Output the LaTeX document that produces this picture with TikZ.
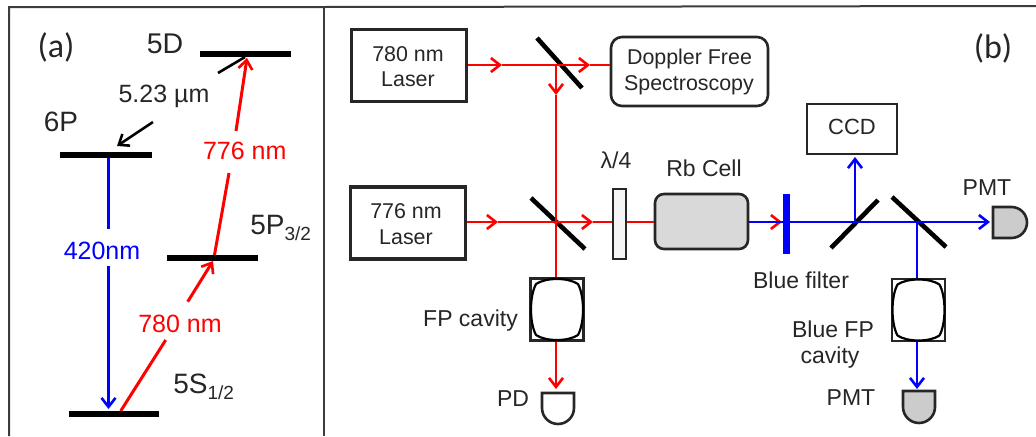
\documentclass[tikz,border=0pt]{standalone}
\usepackage{fontspec}
\setmainfont{Liberation Sans}
\newfontfamily\calib{Carlito}
\usetikzlibrary{arrows.meta}
\newcommand{\fsz}[1]{\fontsize{\dimexpr #1pt*3/4\relax}{\dimexpr #1pt*9/10\relax}\selectfont}
\definecolor{ink}{HTML}{262626}
\definecolor{pureblue}{HTML}{0000FF}
\definecolor{purered}{HTML}{FF0000}
\tikzset{
  txt/.style={text=ink,inner sep=0pt,align=center},
  level/.style={fill=black,draw=none,inner sep=0pt,minimum height=.75pt*6},
  bigtxt/.style={txt,font=\fsz{25}},
  smalltxt/.style={txt,font=\fsz{23}},
  boxtxt/.style={txt,font=\fsz{21.4}},
  barb/.style={-{Straight Barb[length=.75pt*9,width=.75pt*14,line width=.75pt*2.6]}},
  rbeam/.style={draw=purered,line width=.75pt*2.6},
  bbeam/.style={draw=pureblue,line width=.75pt*2.6},
  rbeamA/.style={draw=purered,line width=.75pt*3},
  bbeamA/.style={draw=pureblue,line width=.75pt*3},
  mirror/.style={draw=black,line width=.75pt*4.6},
  boxthick/.style={draw=ink,line width=.75pt*3.6,fill=white,inner sep=0pt},
  boxthin/.style={draw=ink,line width=.75pt*2.6,fill=white,inner sep=0pt},
  cavbox/.style={draw=ink,line width=.75pt*2.4,fill=white,inner sep=0pt,minimum width=.75pt*53,minimum height=.75pt*62},
  frameline/.style={draw=ink!90,line width=.75pt*2},
  detline/.style={draw=ink,line width=.75pt*2.6},
}
\newcommand{\cavinner}[3]{\draw[shift={(#2,#3)},draw=black,line width=.75pt*2.2,line join=round]
  (-21,-25.5) .. controls (-11,-32.2) and (11,-32.2) .. (21,-25.5)
  .. controls (27.7,-13) and (27.7,13) .. (21,25.5)
  .. controls (11,32.2) and (-11,32.2) .. (-21,25.5)
  .. controls (-27.7,13) and (-27.7,-13) .. (-21,-25.5) -- cycle;}
\begin{document}
\begin{tikzpicture}[x=.75pt,y=-.75pt]
\useasboundingbox (0,0) rectangle (1036,436);
% frame
\coordinate (ftl) at (9,7); \coordinate (fbl) at (9,436);
\coordinate (ftm) at (324,7); \coordinate (fbm) at (324,436);
\coordinate (ftr) at (1036,6);
\draw[frameline] (fbl) -- (ftl) -- (ftm) -- (ftr);
\draw[frameline] (ftm) -- (fbm);

% ===== panel (a)
\node[txt,font=\calib\fsz{34}] (la) at (56,47) {(a)};
\node[txt,font=\calib\fsz{34}] (lb) at (993,48) {(b)};

\coordinate (bl1) at (108.5,155);
\coordinate (bl2) at (108.5,229);
\coordinate (bl3) at (108.5,266);
\coordinate (bl4) at (108.5,409);
\draw[bbeamA] (bl1) -- (bl2);
\draw[bbeamA,barb] (bl3) -- (bl4);
\node[bigtxt,text=pureblue] (t420) at (102,251) {420nm};

\coordinate (r1) at (120.7,411);
\coordinate (r2) at (165.7,340);
\coordinate (r3) at (187.7,301.7);
\coordinate (r4) at (213,261);
\draw[rbeamA] (r1) -- (r2);
\draw[rbeamA,barb] (r3) -- (r4);
\node[bigtxt,text=purered] (t780) at (180,324) {780 nm};

\coordinate (c1) at (214.3,256);
\coordinate (c2) at (229,173);
\coordinate (c3) at (236,131);
\coordinate (c4) at (247,58);
\coordinate (d1) at (218,73);
\coordinate (d2) at (245,57);
\draw[draw=black,line width=.75pt*2.6] (d1) -- (d2);
\draw[rbeamA] (c1) -- (c2);
\draw[rbeamA,barb] (c3) -- (c4);
\node[bigtxt,text=purered] (t776) at (244.7,151) {776 nm};

\node[level,minimum width=.75pt*91] (l5D) at (245.5,54) {};
\node[level,minimum width=.75pt*92] (l6P) at (106,155) {};
\node[level,minimum width=.75pt*91] (l5P) at (212.5,258) {};
\node[level,minimum width=.75pt*90] (l5S) at (114,414) {};

\coordinate (k1) at (153,122);
\coordinate (k2) at (117,146);
\draw[draw=black,line width=.75pt*2.6,barb] (k1) -- (k2);
\node[bigtxt] (t523) at (164,96) {5.23 µm};
\node[txt,font=\fsz{28.5}] (t5D) at (165,44) {5D};
\node[txt,font=\fsz{28}] (t6P) at (61,121.5) {6P};
\node[txt,font=\fsz{28},anchor=base west] (t5P) at (250,234) {5P\raisebox{-4.5pt}{\fsz{19}3/2}};
\node[txt,font=\fsz{28},anchor=base west] (t5S) at (173,393) {5S\raisebox{-4.5pt}{\fsz{19}1/2}};

% ===== panel (b)
\node[boxthick,minimum width=.75pt*115,minimum height=.75pt*72,text=ink] (las780) at (409,65.5) {};
\node[boxtxt] (t1a) at (408,54) {780 nm};
\node[boxtxt] (t1b) at (408,79) {Laser};
\node[boxthick,minimum width=.75pt*115,minimum height=.75pt*72] (las776) at (408,223) {};
\node[boxtxt] (t2a) at (406,211) {776 nm};
\node[boxtxt] (t2b) at (406,237) {Laser};
\node[boxthin,rounded corners=.75pt*11,minimum width=.75pt*157,minimum height=.75pt*69] (dop) at (689.5,71.5) {};
\node[boxtxt] (t3a) at (689.5,59) {Doppler Free};
\node[boxtxt] (t3b) at (689,85) {Spectroscopy};
\node[boxthin,minimum width=.75pt*90,minimum height=.75pt*50] (ccd) at (852,129) {};
\node[boxtxt,font=\fsz{22}] (t4) at (852,127) {CCD};
\node[boxthin,minimum width=.75pt*13,minimum height=.75pt*70,fill=black!4] (lam) at (619.5,224) {};
\node[smalltxt] (t5) at (616,160) {λ/4};
\node[boxthin,fill=black!15,rounded corners=.75pt*9,minimum width=.75pt*93,minimum height=.75pt*55] (rb) at (701.5,221.5) {};
\node[smalltxt] (t6) at (704,168) {Rb Cell};

% mirrors
\coordinate (m1a) at (537,38); \coordinate (m1b) at (582,88);
\coordinate (m2a) at (531,198); \coordinate (m2b) at (585,249);
\coordinate (m3a) at (831,248); \coordinate (m3b) at (878,200);
\coordinate (m4a) at (892,197); \coordinate (m4b) at (946,247);
\draw[mirror] (m1a) -- (m1b);
\draw[mirror] (m2a) -- (m2b);
\draw[mirror] (m3a) -- (m3b);
\draw[mirror] (m4a) -- (m4b);

% cavities
\node[cavbox] (fp1) at (557,309.5) {};
\cavinner{fp1}{557}{309.5}
\node[cavbox] (fp2) at (918.5,310) {};
\cavinner{fp2}{918.5}{310}

% junctions and arrow tips
\coordinate (j1) at (556,65);
\coordinate (j2) at (556,222);
\coordinate (j3) at (855,222);
\coordinate (j4) at (917,222);
\coordinate (a1) at (502,65);
\coordinate (a2) at (590,65);
\coordinate (a3) at (556,95);
\coordinate (a4) at (498,222);
\coordinate (a5) at (593,222);
\coordinate (a6) at (556,389);
\coordinate (a7) at (855,157);
\coordinate (a8) at (917,389);
\coordinate (a9) at (990,222);
\coordinate (a10) at (782,222);
\coordinate (a10s) at (770,222);

% red beams
\draw[rbeam,barb] (las780.east |- j1) -- (a1);
\draw[rbeam] (a1) -- (j1);
\draw[rbeam,barb] (j1) -- (a2);
\draw[rbeam] (a2) -- (dop.west |- j1);
\draw[rbeam,barb] (j1) -- (a3);
\draw[rbeam] (a3) -- (j2);
\draw[rbeam,barb] (las776.east |- j2) -- (a4);
\draw[rbeam] (a4) -- (j2);
\draw[rbeam,barb] (j2) -- (a5);
\draw[rbeam] (a5) -- (lam.west |- j2);
\draw[rbeam] (lam.east |- j2) -- (rb.west |- j2);
\draw[rbeam] (j2) -- (j2 |- fp1.north);
\draw[rbeam,barb] (j2 |- fp1.south) -- (a6);
\draw[rbeam,barb] (a10s) -- (a10);

% blue beams
\draw[bbeam] (rb.east |- j2) -- (j3);
\draw[bbeam] (j3) -- (j4);
\draw[bbeam,barb] (j4) -- (a9);
\draw[bbeam,barb] (j3) -- (a7);
\draw[bbeam] (j4) -- (j4 |- fp2.north);
\draw[bbeam,barb] (j4 |- fp2.south) -- (a8);

% blue filter
\node[fill=pureblue,draw=none,inner sep=0pt,minimum width=.75pt*7,minimum height=.75pt*60] (flt) at (786.5,224) {};

% detectors
\coordinate (pd0) at (542,393);
\coordinate (pd1) at (574,393);
\draw[detline,fill=white] (pd0) -- (pd1) -- ++(0,15) arc[start angle=0,end angle=180,radius=16] -- cycle;
\coordinate (pm0) at (903,391);
\coordinate (pm1) at (935,391);
\draw[detline,fill=black!20] (pm0) -- (pm1) -- ++(0,16) arc[start angle=0,end angle=180,radius=16] -- cycle;
\coordinate (pr0) at (993,207);
\coordinate (pr1) at (993,238);
\draw[detline,fill=black!20] (pr0) -- ++(18.5,0) arc[start angle=-90,end angle=90,radius=15.5] -- (pr1) -- cycle;

% labels
\node[smalltxt] (t7) at (470.5,321) {FP cavity};
\node[smalltxt] (t8) at (513,399) {PD};
\node[smalltxt] (t9) at (801,280) {Blue filter};
\node[smalltxt] (t10) at (833,329) {Blue FP};
\node[smalltxt] (t11) at (830,358) {cavity};
\node[smalltxt] (t12) at (851,398) {PMT};
\node[smalltxt] (t13) at (987,188) {PMT};
\end{tikzpicture}
\end{document}
